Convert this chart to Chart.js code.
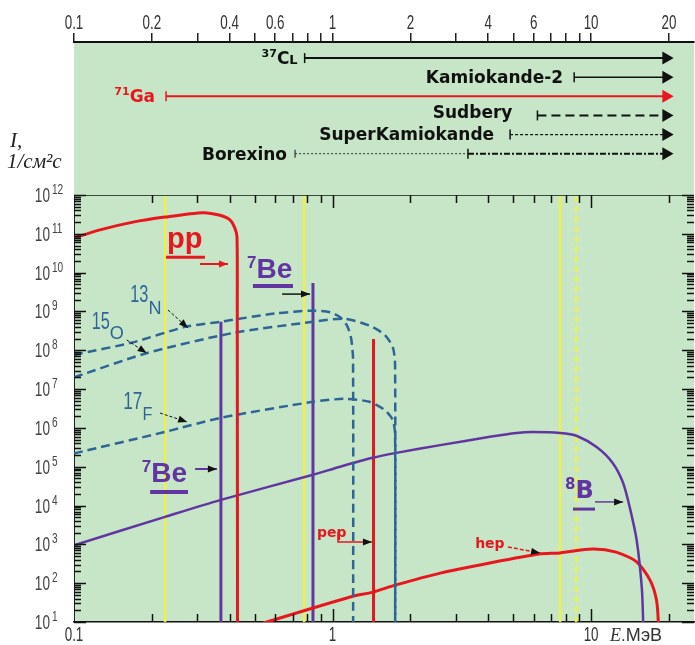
<!DOCTYPE html>
<html>
<head>
<meta charset="utf-8">
<script src="https://cdn.jsdelivr.net/npm/chart.js@4.4.1/dist/chart.umd.min.js"></script>
<style>
  html, body { margin: 0; padding: 0; background: #fff; }
  #wrap { position: relative; width: 695px; height: 645px; }
  #wrap canvas { position: absolute; left: 0; top: 0; }
</style>
</head>
<body>
<div id="wrap">
  <canvas id="detectors" width="695" height="645"></canvas>
  <canvas id="spectrum" width="695" height="645"></canvas>
</div>
<script>
// energy axis (MeV), shared by both panels
const energyMin = 0.1;
const energyMax = 25;
const topTickValues = [0.1, 0.2, 0.3, 0.4, 0.5, 0.6, 0.7, 0.8, 0.9, 1, 2, 3, 4, 5, 6, 7, 8, 9, 10, 20];
const topTickLabels = ['0.1', '0.2', '', '0.4', '', '0.6', '', '', '', '1', '2', '', '4', '', '6', '', '', '', '10', '20'];
const bottomTickValues = [0.1, 1, 10];
const bottomTickLabels = ['0.1', '1', '10'];
const fluxDecades = [1, 2, 3, 4, 5, 6, 7, 8, 9, 10, 11, 12];

// detectors (top panel): threshold energy, row
const detectorNames = ['37Cl', 'Kamiokande-2', '71Ga', 'Sudbery', 'SuperKamiokande', 'Borexino'];
const detectorThreshold = [0.78, 8.6, 0.227, 6.2, 4.86, 0.716];
const detectorRow = [1, 2, 3, 4, 5, 6];
const borexinoSplit = 3.34;
const arrowEnd = 19.5;

// solar neutrino spectra (main panel), flux in 1/cm2 s
const ppEnergy = [0.1, 0.126, 0.169, 0.225, 0.315, 0.367, 0.401, 0.419, 0.427, 0.428, 0.429];
const ppFlux = [7.8e10, 1.26e11, 2.0e11, 2.7e11, 3.5e11, 3.0e11, 2.3e11, 1.4e11, 8.3e10, 1e9, 1];

const n13Energy = [0.1, 0.169, 0.269, 0.367, 0.6, 0.84, 0.98, 1.07, 1.14, 1.18, 1.2, 1.201];
const n13Flux = [7.6e7, 1.6e8, 4.0e8, 5.4e8, 8.9e8, 1.05e9, 9.5e8, 7.1e8, 4.2e8, 2.0e8, 6e7, 1];

const o15Energy = [0.1, 0.192, 0.413, 0.84, 1.11, 1.39, 1.59, 1.71, 1.745, 1.746];
const o15Flux = [2.0e7, 8.5e7, 2.8e8, 5.4e8, 6.5e8, 4.3e8, 2.5e8, 1.2e8, 4.2e7, 1];

const f17Energy = [0.1, 0.225, 0.367, 0.84, 1.11, 1.39, 1.59, 1.71, 1.745, 1.746];
const f17Flux = [2.2e5, 7.9e5, 1.8e6, 4.7e6, 5.6e6, 4.7e6, 2.9e6, 1.6e6, 6.6e5, 1];

const b8Energy = [0.1, 0.225, 0.367, 0.84, 1.07, 1.43, 1.745, 2.61, 4.06, 5.15, 5.96, 7.59, 8.82, 10.5, 12.1, 13.3, 14.1, 15.0, 15.7, 15.9, 15.95];
const b8Flux = [950, 5.1e3, 1.38e4, 6.2e4, 1.0e5, 1.7e5, 2.24e5, 3.6e5, 5.9e5, 7.4e5, 7.8e5, 7.4e5, 6.2e5, 3.2e5, 1.26e5, 3.8e4, 9.1e3, 1.3e3, 79, 9.3, 1];

const hepEnergy = [0.48, 1.17, 1.43, 1.745, 2.61, 4.06, 6.3, 7.59, 10.1, 12.5, 15.0, 16.9, 17.9, 18.2, 18.3];
const hepFlux = [7.4, 44, 59, 89, 182, 331, 562, 603, 759, 631, 355, 120, 37, 9.3, 1];

// monoenergetic lines
const be7LineEnergy = [0.37, 0.84];
const be7LineFlux = [5.4e8, 5.4e9];
const pepLineEnergy = [1.44];
const pepLineFlux = [1.95e8];

// detector thresholds marked in yellow
const yellowSolid = [0.225, 0.776, 7.59];
const yellowDashed = [8.75];

const RED = '#e8171f';
const PURPLE = '#6236a0';
const BLUE = '#2e6596';
const YELLOW = '#eef04c';
const GREEN = '#c7e6c7';
const SANS = '"Liberation Sans", Arial, sans-serif';
const BOLD = '"DejaVu Sans", sans-serif';

const pts = (xs, ys) => xs.map((x, i) => ({ x: x, y: ys[i] }));

// text runs: [text, font, dy, xscale]
function drawParts(ctx, parts, x, y, align, color) {
  ctx.save();
  ctx.fillStyle = color;
  ctx.textBaseline = 'alphabetic';
  ctx.textAlign = 'left';
  let total = 0;
  const widths = parts.map(p => { ctx.font = p[1]; const w = ctx.measureText(p[0]).width * (p[3] || 1); total += w; return w; });
  let cx = align === 'right' ? x - total : (align === 'center' ? x - total / 2 : x);
  parts.forEach((p, i) => {
    ctx.font = p[1];
    ctx.save();
    ctx.translate(cx, y + (p[2] || 0));
    ctx.scale(p[3] || 1, 1);
    ctx.fillText(p[0], 0, 0);
    ctx.restore();
    cx += widths[i];
  });
  ctx.restore();
}

function drawArrow(ctx, path, color, head, dash, width) {
  ctx.save();
  ctx.strokeStyle = color;
  ctx.lineWidth = width;
  ctx.setLineDash(dash || []);
  ctx.beginPath();
  ctx.moveTo(path[0][0], path[0][1]);
  for (let i = 1; i < path.length; i++) ctx.lineTo(path[i][0], path[i][1]);
  ctx.stroke();
  ctx.setLineDash([]);
  const [x2, y2] = path[path.length - 1];
  const [x1, y1] = path[path.length - 2];
  const ang = Math.atan2(y2 - y1, x2 - x1);
  const L = 9, W = 3.5;
  ctx.fillStyle = head;
  ctx.beginPath();
  ctx.moveTo(x2, y2);
  ctx.lineTo(x2 - L * Math.cos(ang) + W * Math.sin(ang), y2 - L * Math.sin(ang) - W * Math.cos(ang));
  ctx.lineTo(x2 - L * Math.cos(ang) - W * Math.sin(ang), y2 - L * Math.sin(ang) + W * Math.cos(ang));
  ctx.closePath();
  ctx.fill();
  ctx.restore();
}

// ---------- main panel ----------
const lineSets = [];
function curve(label, xs, ys, color, width, dash) {
  lineSets.push({
    label: label, data: pts(xs, ys), borderColor: color, borderWidth: width,
    borderDash: dash || [], pointRadius: 0, tension: 0.25, fill: false, order: 1
  });
}
curve('pp', ppEnergy, ppFlux, RED, 3);
curve('13N', n13Energy, n13Flux, BLUE, 2.5, [9, 5]);
curve('15O', o15Energy, o15Flux, BLUE, 2.5, [9, 5]);
curve('17F', f17Energy, f17Flux, BLUE, 2.5, [9, 5]);
curve('8B', b8Energy, b8Flux, PURPLE, 2.5);
curve('hep', hepEnergy, hepFlux, RED, 3);
be7LineEnergy.forEach((e, i) => {
  lineSets.push({ label: '7Be', data: [{ x: e, y: be7LineFlux[i] }, { x: e, y: 1 }],
    borderColor: PURPLE, borderWidth: 3, pointRadius: 0, order: 1 });
});
pepLineEnergy.forEach((e, i) => {
  lineSets.push({ label: 'pep', data: [{ x: e, y: pepLineFlux[i] }, { x: e, y: 1 }],
    borderColor: RED, borderWidth: 3, pointRadius: 0, order: 1 });
});
yellowSolid.forEach(e => {
  lineSets.push({ label: 'threshold', data: [{ x: e, y: 1e13 }, { x: e, y: 1 }],
    borderColor: YELLOW, borderWidth: 2.5, pointRadius: 0, order: 5 });
});
yellowDashed.forEach(e => {
  lineSets.push({ label: 'threshold', data: [{ x: e, y: 1e13 }, { x: e, y: 1 }],
    borderColor: YELLOW, borderWidth: 2.5, borderDash: [6, 4], pointRadius: 0, order: 5 });
});

// labels and arrows on the main panel, anchored in data coordinates
const mainNotes = [
  { parts: [['pp', 'bold 29px ' + SANS]], at: [0.229, 4.3e10], color: RED,
    underline: [0.227, 0.321, 2.5e10, 3],
    arrow: { path: [[0.307, 1.67e10], [0.394, 1.67e10]], color: RED, head: RED, width: 2 } },
  { parts: [['7', 'bold 17px ' + SANS, -10], ['Be', 'bold 28px ' + SANS]], at: [0.467, 7.3e9], color: PURPLE,
    underline: [0.492, 0.703, 4.5e9, 4],
    arrow: { path: [[0.638, 2.8e9], [0.818, 2.8e9]], color: '#111', head: '#111', width: 1.5 } },
  { parts: [['13', '24px ' + SANS, 0, 0.68], ['N', '19px ' + SANS, 12, 0.95]], at: [0.165, 1.75e9], color: BLUE,
    arrow: { path: [[0.231, 1.09e9], [0.276, 3.75e8]], color: '#111', head: '#111', width: 1, dash: [3, 2] } },
  { parts: [['15', '24px ' + SANS, 0, 0.68], ['O', '19px ' + SANS, 10, 0.95]], at: [0.117, 3.5e8], color: BLUE,
    arrow: { path: [[0.160, 1.84e8], [0.191, 8.5e7]], color: '#111', head: '#111', width: 1, dash: [3, 2] } },
  { parts: [['17', '24px ' + SANS, 0, 0.72], ['F', '18px ' + SANS, 11, 0.9]], at: [0.155, 3.07e6], color: BLUE,
    arrow: { path: [[0.215, 2.42e6], [0.274, 1.42e6]], color: '#111', head: '#111', width: 1, dash: [3, 2] } },
  { parts: [['7', 'bold 17px ' + SANS, -10], ['Be', 'bold 28px ' + SANS]], at: [0.183, 4.05e4], color: PURPLE,
    underline: [0.197, 0.276, 2.23e4, 4],
    arrow: { path: [[0.294, 8.75e4], [0.357, 8.75e4]], color: PURPLE, head: '#111', width: 2 } },
  { parts: [['pep', 'bold 14px ' + BOLD]], at: [0.871, 1.55e3], color: RED,
    arrow: { path: [[1.05, 2.08e3], [1.05, 1.15e3], [1.42, 1.15e3]], color: RED, head: '#111', width: 1.5 } },
  { parts: [['hep', 'bold 14px ' + BOLD]], at: [3.56, 807], color: RED,
    arrow: { path: [[4.77, 857], [6.35, 600]], color: RED, head: '#111', width: 1.5, dash: [4, 2] } },
  { parts: [['8', 'bold 15px ' + BOLD, -9], ['B', 'bold 24px ' + BOLD]], at: [7.93, 1.57e4], color: PURPLE,
    underline: [8.51, 10.35, 8.1e3, 3],
    arrow: { path: [[10.35, 1.24e4], [13.3, 1.24e4]], color: PURPLE, head: '#111', width: 1.5 } }
];

const greenFill = {
  id: 'greenFill',
  beforeDraw(chart) {
    const { ctx, chartArea: a } = chart;
    ctx.save();
    ctx.fillStyle = GREEN;
    ctx.fillRect(a.left, a.top, a.right - a.left, a.bottom - a.top);
    ctx.restore();
  }
};

const mainDecor = {
  id: 'mainDecor',
  afterDatasetsDraw(chart) {
    const { ctx, chartArea: a, scales: { x, y } } = chart;
    // labels and arrows
    mainNotes.forEach(n => {
      drawParts(ctx, n.parts, x.getPixelForValue(n.at[0]), y.getPixelForValue(n.at[1]), 'left', n.color);
      if (n.underline) {
        const u = n.underline;
        ctx.save();
        ctx.strokeStyle = n.color;
        ctx.lineWidth = u[3];
        ctx.beginPath();
        ctx.moveTo(x.getPixelForValue(u[0]), y.getPixelForValue(u[2]));
        ctx.lineTo(x.getPixelForValue(u[1]), y.getPixelForValue(u[2]));
        ctx.stroke();
        ctx.restore();
      }
      const ar = n.arrow;
      const path = ar.path.map(p => [x.getPixelForValue(p[0]), y.getPixelForValue(p[1])]);
      drawArrow(ctx, path, ar.color, ar.head, ar.dash, ar.width);
    });

    // frame: top border and inward ticks on all four sides
    ctx.save();
    ctx.setLineDash([]);
    ctx.strokeStyle = '#3a4a3a';
    ctx.lineWidth = 1;
    ctx.beginPath();
    ctx.moveTo(a.left, a.top + 0.5);
    ctx.lineTo(a.right, a.top + 0.5);
    ctx.stroke();
    ctx.strokeStyle = '#111';
    ctx.lineWidth = 1.5;
    ctx.beginPath();
    topTickValues.forEach(v => {
      if (v <= energyMin) return;
      const px = Math.round(x.getPixelForValue(v)) + 0.5;
      const len = (v === 1 || v === 10) ? 13 : 8;
      ctx.moveTo(px, a.bottom);
      ctx.lineTo(px, a.bottom - len);
      ctx.moveTo(px, a.top);
      ctx.lineTo(px, a.top + len);
    });
    fluxDecades.forEach(d => {
      for (let m = 1; m <= 9; m++) {
        const v = m * Math.pow(10, d);
        if (v > 1e12) break;
        const py = Math.round(y.getPixelForValue(v)) + 0.5;
        const len = m === 1 ? 12 : 7;
        ctx.moveTo(a.left, py);
        ctx.lineTo(a.left + len, py);
        ctx.moveTo(a.right, py);
        ctx.lineTo(a.right - len, py);
      }
    });
    ctx.stroke();
    ctx.restore();
  },
  afterDraw(chart) {
    const { ctx, chartArea: a, scales: { x, y } } = chart;
    // flux tick labels 10^n
    fluxDecades.forEach(d => {
      const py = y.getPixelForValue(Math.pow(10, d));
      drawParts(ctx, [['10', '20px ' + SANS, 0, 0.68]], a.left - 24, py + 7, 'right', '#444');
      drawParts(ctx, [[String(d), '14px ' + SANS, 0, 0.72]], a.left - 22, py - 1, 'left', '#444');
    });
    // energy tick labels
    bottomTickValues.forEach((v, i) => {
      drawParts(ctx, [[bottomTickLabels[i], '20px ' + SANS, 0, 0.67]], x.getPixelForValue(v), a.bottom + 19, 'center', '#333');
    });
    // energy axis title
    drawParts(ctx, [['E', 'italic 18px "Liberation Serif"'], ['.', '17px ' + SANS], ['МэВ', '18px ' + SANS]],
      a.right - 84, a.bottom + 19, 'left', '#333');
  }
};

new Chart(document.getElementById('spectrum'), {
  type: 'line',
  data: { datasets: lineSets },
  options: {
    responsive: false,
    animation: false,
    layout: { autoPadding: false, padding: { top: 195, right: 1, left: 0, bottom: 0 } },
    plugins: { legend: { display: false }, tooltip: { enabled: false } },
    scales: {
      x: {
        type: 'logarithmic', position: 'bottom', min: energyMin, max: energyMax,
        afterBuildTicks: axis => { axis.ticks = bottomTickValues.map(v => ({ value: v })); },
        afterFit: axis => { axis.height = 23; },
        ticks: { display: false },
        grid: { display: false, drawTicks: false },
        border: { display: true, color: '#111', width: 1.5 }
      },
      y: {
        type: 'logarithmic', position: 'left', min: 10, max: 1e12,
        afterFit: axis => { axis.width = 74; },
        ticks: { display: false },
        grid: { display: false, drawTicks: false },
        border: { display: true, color: '#222', width: 1 }
      }
    }
  },
  plugins: [greenFill, mainDecor]
});

// ---------- detector panel ----------
const detectorColor = ['#111', '#111', RED, '#111', '#111', '#111'];
const detectorWidth = [2, 1.5, 2, 2, 1.2, 2];
const detectorDash = [[], [], [], [9, 5], [3, 2], [6, 2, 2, 2]];

const detectorSets = detectorNames.map((name, i) => ({
  label: name,
  data: [{ x: name === 'Borexino' ? borexinoSplit : detectorThreshold[i], y: detectorRow[i] },
         { x: arrowEnd, y: detectorRow[i] }],
  borderColor: detectorColor[i], borderWidth: detectorWidth[i], borderDash: detectorDash[i],
  pointStyle: ['line', 'triangle'], pointRotation: 90, pointRadius: [5, 6],
  pointBorderColor: detectorColor[i], pointBackgroundColor: detectorColor[i], pointBorderWidth: 1.5
}));
const bxIndex = detectorNames.indexOf('Borexino');
detectorSets.push({
  label: 'Borexino low',
  data: [{ x: detectorThreshold[bxIndex], y: detectorRow[bxIndex] }, { x: borexinoSplit, y: detectorRow[bxIndex] }],
  borderColor: '#333', borderWidth: 1, borderDash: [2, 2],
  pointStyle: 'line', pointRotation: 90, pointRadius: [4, 0],
  pointBorderColor: '#333', pointBorderWidth: 1.2
});

const detectorText = [
  { parts: [['37', 'bold 11px ' + BOLD, -7], ['C', 'bold 17px ' + BOLD], ['L', 'bold 13px ' + BOLD]], gap: 7, dy: 6, color: '#111' },
  { parts: [['Kamiokande-2', 'bold 17px ' + BOLD]], gap: 11, dy: 6, color: '#111' },
  { parts: [['71', 'bold 11px ' + BOLD, -7], ['Ga', 'bold 17px ' + BOLD]], gap: 11, dy: 6, color: RED },
  { parts: [['Sudbery', 'bold 17px ' + BOLD]], gap: 25, dy: 3, color: '#111' },
  { parts: [['SuperKamiokande', 'bold 17px ' + BOLD]], gap: 16, dy: 5, color: '#111' },
  { parts: [['Borexino', 'bold 17px ' + BOLD]], gap: 8, dy: 6, color: '#111' }
];

const detectorDecor = {
  id: 'detectorDecor',
  afterDraw(chart) {
    const { ctx, chartArea: a, scales: { x, y } } = chart;
    detectorText.forEach((t, i) => {
      drawParts(ctx, t.parts, x.getPixelForValue(detectorThreshold[i]) - t.gap,
        y.getPixelForValue(detectorRow[i]) + t.dy, 'right', t.color);
    });
    // top energy tick labels
    topTickValues.forEach((v, i) => {
      if (!topTickLabels[i]) return;
      drawParts(ctx, [[topTickLabels[i], '20px ' + SANS, 0, 0.67]], x.getPixelForValue(v), a.top - 13, 'center', '#333');
    });
    // vertical axis title
    drawParts(ctx, [['I,', 'italic 21px "Liberation Serif"']], 10, 147, 'left', '#222');
    drawParts(ctx, [['1/см²с', 'italic 21px "Liberation Serif"']], 7, 168, 'left', '#222');
  }
};

new Chart(document.getElementById('detectors'), {
  type: 'line',
  data: { datasets: detectorSets },
  options: {
    responsive: false,
    animation: false,
    layout: { autoPadding: false, padding: { top: 0, right: 1, left: 74, bottom: 450 } },
    plugins: { legend: { display: false }, tooltip: { enabled: false } },
    scales: {
      x: {
        type: 'logarithmic', position: 'top', min: energyMin, max: energyMax,
        afterBuildTicks: axis => { axis.ticks = topTickValues.map(v => ({ value: v })); },
        afterFit: axis => { axis.height = 42; },
        ticks: { display: false },
        grid: { display: true, drawOnChartArea: false, drawTicks: true, tickLength: 9, color: '#222', lineWidth: 1.5 },
        border: { display: true, color: '#111', width: 2 }
      },
      y: { type: 'linear', display: false, reverse: true, min: 0.16, max: 8.16 }
    }
  },
  plugins: [greenFill, detectorDecor]
});
</script>
</body>
</html>
